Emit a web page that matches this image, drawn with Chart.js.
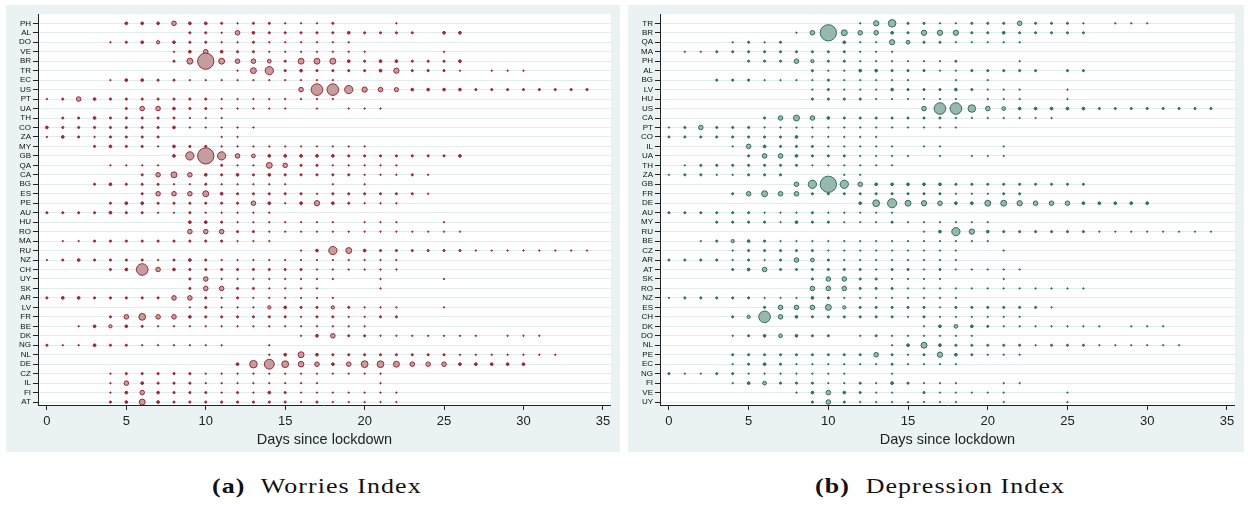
<!DOCTYPE html>
<html>
<head>
<meta charset="utf-8">
<script src="https://cdn.jsdelivr.net/npm/chart.js@4"></script>
<style>
  body { margin: 0; width: 1248px; height: 506px; background: #fff; position: relative; overflow: hidden; }
  .panel { position: absolute; top: 5px; height: 447px; background: #eaf2f3; }
  #leftPanel { left: 6px; width: 614px; }
  #rightPanel { left: 628px; width: 616px; }
  .caption { position: absolute; top: 474px; width: 500px; text-align: center; line-height: 23px;
    font-family: "Liberation Serif", serif; font-size: 22px; color: #111; }
  .caption span { display: inline-block; transform: scaleX(1.18); letter-spacing: 0.9px; }
  .caption b { margin-right: 7px; }
</style>
</head>
<body>
<div class="panel" id="leftPanel"><canvas id="worriesChart" width="614" height="447"></canvas></div>
<div class="panel" id="rightPanel"><canvas id="depressionChart" width="616" height="447"></canvas></div>
<div class="caption" style="left:67px"><span><b>(a)</b> Worries Index</span></div>
<div class="caption" style="left:690px"><span><b>(b)</b> Depression Index</span></div>

<script>
"use strict"

// x axis: days since lockdown
const dayTicks = [0, 5, 10, 15, 20, 25, 30, 35];

// (a) Worries Index - countries top to bottom
const worriesCountries = ['PH','AL','DO','VE','BR','TR','EC','US','PT','UA','TH','CO','ZA','MY','GB','QA','CA','BG','ES','PE','AU',
    'HU','RO','MA','RU','NZ','CH','UY','SK','AR','LV','FR','BE','DK','NG','NL','DE','CZ','IL','FI','AT'];

const worriesValues = [
    [0,0,0,0,0,3,3,3,7,3,3,2,1,2,2,1,1,1,2,0,0,0,1],                 // PH
    [0,0,0,0,0,0,0,0,0,2,2,1,7,3,2,2,2,2,2,3,2,2,2,2,0,3,3],           // AL
    [0,0,0,0,1,2,3,4,3,2,2,1,1,2,1,1,1,1,1,1],                       // DO
    [0,0,0,0,0,0,0,0,1,3,7,3,2,2,1,1,1,1,1,1,1,0,0,0,0,1],             // VE
    [0,0,0,0,0,0,0,0,2,11,72,11,7,7,5,2,11,11,11,3,2,3,3,2,2,2,3],     // BR
    [0,0,0,0,0,0,0,0,0,0,0,0,1,11,20,2,3,2,2,2,2,3,9,2,2,2,1,0,1,1,1], // TR
    [0,0,0,0,1,3,3,2,2,1,1,1,1,1,1,1,1,1,1],                         // EC
    [0,0,0,0,0,0,0,0,0,0,0,0,0,0,0,0,7,38,38,20,9,7,6,3,3,3,3,2,2,2,2,2,2,2,2], // US
    [1,2,7,3,2,2,2,2,2,2,2,1,1,1,1,1,1,1,1],                         // PT
    [0,0,0,0,0,2,7,7,3,2,2,1,1,1,1,1,0,1,0,1,1,1],                   // UA
    [0,2,2,3,2,2,2,2,2,1,1,1],                                       // TH
    [3,2,2,2,2,2,2,2,3,1,1,1,1,1],                                   // CO
    [1,3,2,1,2,2,2,2,0,0,0,1,1],                                     // ZA
    [0,0,0,2,3,2,2,1,3,2,2,1,1,1,1,1,1,1,1,1,1],                     // MY
    [0,0,0,0,0,0,0,0,3,20,72,20,7,5,3,3,3,3,3,2,2,2,2,2,2,2,3],        // GB
    [0,0,0,0,1,1,1,1,0,0,0,2,1,1,11,7,2,2,1,1,1,1,1],                // QA
    [0,0,0,0,0,0,2,7,11,7,3,2,3,2,3,2,2,2,2,2,1,1,1,2,1],              // CA
    [0,0,0,2,3,2,2,2,1,1,2,1,1,1,1,1,0,0,1,0,1],                     // BG
    [0,0,0,0,0,0,2,7,7,7,11,3,2,2,2,2,2,1,2,2,2,2,2,2,1],              // ES
    [0,0,0,0,2,3,3,2,2,2,2,2,2,7,3,1,3,9,3,2,1,1,1],                 // PE
    [2,2,2,2,3,2,2,1,1,2,1,1,1,1,1],                                 // AU
    [0,0,0,0,0,0,0,0,0,3,3,2,1,1,1,1,1,1,1,0,1,1,1,0,0,1],             // HU
    [0,0,0,0,0,0,0,0,0,7,7,7,2,2,1,1,1,1,1,1,1,1,1,1,1,1,1],           // RO
    [0,1,1,2,2,2,2,2,2,2,2,2,1,1,1],                                 // MA
    [0,0,0,0,0,0,0,0,0,0,0,0,0,0,0,0,1,3,20,11,3,2,2,2,2,2,2,1,1,1,1,1,1,1,1], // RU
    [1,2,3,2,2,2,2,1,2,3,2,1,1,1,1,1,1,1,1,1,1,1,1],                 // NZ
    [0,0,0,0,2,3,38,7,3,2,2,2,2,2,2,2,2,1,1,1,1,1,1],                // CH
    [0,0,0,0,0,0,0,0,0,2,7,1,1,1,1,1,1,1,1,0,0,1,0,0,0,1],             // UY
    [0,0,0,0,0,0,0,0,0,2,7,7,2,2,1,1,1,1,0,0,0,1],                   // SK
    [2,3,3,2,2,2,2,2,7,7,2,1,2,1,1,1,1,1,1],                         // AR
    [0,0,0,0,0,0,0,0,0,1,2,1,1,1,4,3,2,2,4,2,1,1,1,0,0,1],             // LV
    [0,0,0,0,2,7,14,7,7,3,2,2,2,2,2,2,1,2,2,1,1,2,2],                // FR
    [0,0,1,3,4,3,2,1,1,1,1,1,1,1,1,1,1,1,1,1,1],                     // BE
    [0,0,0,0,0,0,0,0,0,0,0,0,0,0,0,0,1,3,7,2,2,1,1,1,1,1,1,1,0,1,1,1], // DK
    [2,1,1,3,2,2,1,1,1,1,1,1,0,0,1],                                 // NG
    [0,0,0,0,0,0,0,0,0,0,0,0,0,0,1,3,11,3,2,2,2,2,2,2,2,2,1,1,1,1,1,1,1], // NL
    [0,0,0,0,0,0,0,0,0,0,0,0,3,17,28,14,10,7,3,7,14,14,11,7,7,7,3,3,3,3,3], // DE
    [0,0,0,0,1,2,2,2,2,2,1,1,1,1,1,1,1,1,1,1,1,1],                   // CZ
    [0,0,0,0,1,7,3,2,2,2,1,1,1,1,1,1,1,1,0,0,0,1],                   // IL
    [0,0,0,0,1,3,7,3,2,2,2,1,2,1,3,2,1,1,1,1,1,1,1],                 // FI
    [0,0,0,0,2,3,11,3,2,2,2,2,2,2,2,2,1,2,1,1,1,1,1]                 // AT
];

// (b) Depression Index - countries top to bottom
const depressionCountries = ['TR','BR','QA','MA','PH','AL','BG','LV','HU','US','CA','PT','CO','IL','UA','TH','ZA','GB','FR','DE','AU',
    'MY','RU','BE','CZ','AR','AT','SK','RO','NZ','ES','CH','DK','DO','NL','PE','EC','NG','FI','VE','UY'];

const depressionValues = [
    [0,0,0,0,0,0,0,0,0,0,0,0,1,9,17,2,2,1,1,2,2,2,7,2,2,2,1,0,1,1,1],  // TR
    [0,0,0,0,0,0,0,0,1,7,72,11,7,7,3,2,9,9,9,2,2,3,2,2,2,2,2],         // BR
    [0,0,0,0,1,2,1,2,0,0,0,3,1,1,9,5,2,2,1,1,1,1,1],                 // QA
    [0,1,1,2,2,2,2,2,2,2,2,2,1,1,1],                                 // MA
    [0,0,0,0,0,2,2,2,7,4,2,2,1,1,1,1,1,1,2,0,0,0,1],                 // PH
    [0,0,0,0,0,0,0,0,0,2,1,1,3,3,2,2,2,1,1,2,2,2,2,2,0,2,2],           // AL
    [0,0,0,2,2,2,1,1,1,1,2,1,1,1,1,1,0,0,1,0,1],                     // BG
    [0,0,0,0,0,0,0,0,0,1,2,1,1,1,3,2,2,2,3,2,1,1,1,0,0,1],             // LV
    [0,0,0,0,0,0,0,0,0,2,2,2,2,1,1,1,1,1,1,0,1,1,1,0,0,1],             // HU
    [0,0,0,0,0,0,0,0,0,0,0,0,0,0,0,0,7,38,38,17,7,5,3,3,3,3,3,2,2,2,2,2,2,2,2], // US
    [0,0,0,0,0,0,2,7,11,7,3,2,2,2,2,2,2,2,1,1,1,1,1,1,1],              // CA
    [1,2,7,2,2,2,1,1,1,1,1,1,1,1,1,1,1,1,1],                         // PT
    [2,2,2,2,2,2,2,2,3,1,1,1,1,1],                                   // CO
    [0,0,0,0,1,7,3,2,2,2,1,1,1,1,1,0,1,1,0,0,0,1],                   // IL
    [0,0,0,0,0,2,7,7,3,2,2,2,1,1,1,1,0,1,0,1,1,1],                   // UA
    [0,1,2,2,2,2,2,2,2,1,1,1,1,1,1],                                 // TH
    [1,2,2,1,1,2,2,2,0,0,0,1,1],                                     // ZA
    [0,0,0,0,0,0,0,0,7,20,72,20,7,3,3,3,3,3,2,2,2,2,2,2,2,2,2],        // GB
    [0,0,0,0,2,7,11,7,7,2,2,2,2,2,2,2,2,2,1,1,1,2,2],                // FR
    [0,0,0,0,0,0,0,0,0,0,0,0,3,14,24,11,9,7,3,3,11,11,9,7,7,7,3,3,3,3,3], // DE
    [2,2,2,2,2,2,1,1,1,2,1,1,1,1,1],                                 // AU
    [0,0,0,2,2,2,2,1,3,2,2,1,1,1,2,1,1,1,1,1,1],                     // MY
    [0,0,0,0,0,0,0,0,0,0,0,0,0,0,0,0,1,3,20,9,3,2,2,2,2,2,2,1,1,1,1,1,1,1,1], // RU
    [0,0,1,2,4,3,2,1,1,1,1,1,1,1,1,1,1,1,1,1,1],                     // BE
    [0,0,0,0,1,2,2,2,2,2,1,1,1,1,1,1,1,1,1,0,0,1],                   // CZ
    [2,2,2,2,1,2,1,2,7,5,2,1,1,1,1,1,1,1,1],                         // AR
    [0,0,0,0,2,3,7,2,2,2,2,2,2,1,2,2,1,2,1,1,1,1,1],                 // AT
    [0,0,0,0,0,0,0,0,0,2,7,7,2,2,1,1,1,1,0,0,0,1],                   // SK
    [0,0,0,0,0,0,0,0,0,7,7,7,2,2,2,1,1,1,1,1,1,1,1,1,1,1,1],           // RO
    [1,2,2,2,2,2,1,1,1,3,2,1,1,1,1,1,1,1,1],                         // NZ
    [0,0,0,0,0,0,2,7,7,7,11,4,2,2,2,2,2,1,2,2,2,2,2,2,1],              // ES
    [0,0,0,0,2,4,38,7,3,2,2,2,2,2,2,1,2,1,1,1,1,1,1],                // CH
    [0,0,0,0,0,0,0,0,0,0,0,0,0,0,0,0,1,3,5,3,2,1,1,1,1,1,1,1,0,1,1,1], // DK
    [0,0,0,0,1,2,3,5,3,2,2,0,1,2,1,1,1,1,1,1],                       // DO
    [0,0,0,0,0,0,0,0,0,0,0,0,0,0,1,3,11,3,2,2,2,2,2,1,2,2,2,1,1,1,1,1,1], // NL
    [0,0,0,0,2,2,2,2,2,2,2,2,2,7,2,1,2,9,3,2,1,1,1],                 // PE
    [0,0,0,0,1,2,3,2,1,1,1,1,1,1,2,1,1,1,1],                         // EC
    [2,1,1,2,2,1,1,1,1,1,1,1,0,0,1],                                 // NG
    [0,0,0,0,1,3,5,2,2,2,1,1,2,1,3,2,1,1,1,0,0,1,1],                 // FI
    [0,0,0,0,0,0,0,0,1,3,7,3,2,1,1,0,2,1,1,1,1,1,0,0,0,1],             // VE
    [0,0,0,0,0,0,0,0,0,2,7,2,1,1,1,1,1,1,1,0,0,1,0,0,0,1]              // UY
];

const fontFamily = '"Liberation Sans", Arial, sans-serif';

// bubble area proportional to the weight
function bubbleRadius(w) {
    return Math.max(Math.sqrt(w) - 0.35, 0.7);
}

function buildPoints(values) {
    let points = [];
    values.forEach(function (row, i) {
        row.forEach(function (w, day) {
            if (w > 0) points.push({ x: day, y: i, r: bubbleRadius(w), w: w });
        });
    });
    return points;
}

// white plot region on the grey panel
const plotBackground = {
    id: 'plotBackground',
    beforeDraw(chart) {
        const a = chart.chartArea;
        const ctx = chart.ctx;
        ctx.save();
        ctx.fillStyle = '#ffffff';
        ctx.fillRect(a.left, a.top, a.right - a.left, a.bottom - a.top);
        ctx.restore();
    }
};

function makeChart(canvasId, countries, values, fill, stroke) {
    return new Chart(document.getElementById(canvasId), {
        type: 'bubble',
        data: {
            datasets: [{
                data: buildPoints(values),
                // tiny markers read as solid dots
                backgroundColor: ctx => (ctx.raw && ctx.raw.w <= 3) ? stroke : fill,
                borderColor: stroke,
                borderWidth: 1,
                hoverRadius: 0,
            }]
        },
        plugins: [plotBackground],
        options: {
            responsive: false,
            animation: false,
            events: [],
            layout: { padding: { top: 3, right: 4, left: 0, bottom: 0 } },
            scales: {
                x: {
                    type: 'linear',
                    min: -0.56,
                    max: 35.5,
                    afterBuildTicks: s => { s.ticks = dayTicks.map(v => ({ value: v })); },
                    afterFit: s => { s.height = 47; },
                    ticks: { font: { family: fontFamily, size: 13 }, color: '#222', padding: 4, maxRotation: 0 },
                    grid: { drawOnChartArea: false, tickLength: 5, tickColor: '#222' },
                    border: { color: '#222', width: 1 },
                    title: {
                        display: true,
                        text: 'Days since lockdown',
                        font: { family: fontFamily, size: 14.5 },
                        color: '#222',
                        padding: { top: 0, bottom: 3 }
                    }
                },
                y: {
                    type: 'linear',
                    reverse: true,
                    min: -0.97,
                    max: countries.length - 1 + 0.31,
                    afterBuildTicks: s => { s.ticks = countries.map((c, i) => ({ value: i })); },
                    afterFit: s => { s.width = 32; },
                    ticks: {
                        autoSkip: false,
                        padding: 2,
                        font: { family: fontFamily, size: 8 },
                        color: '#111',
                        callback: v => countries[v]
                    },
                    grid: { color: '#e2ecee', lineWidth: 1, tickLength: 5, tickColor: '#222' },
                    border: { color: '#222', width: 1 }
                }
            },
            plugins: {
                legend: { display: false },
                tooltip: { enabled: false }
            }
        }
    });
}

let worriesChart = makeChart('worriesChart', worriesCountries, worriesValues, '#c49e9e', '#9c2834');
let depressionChart = makeChart('depressionChart', depressionCountries, depressionValues, '#97b8af', '#2f6e62');
</script>
</body>
</html>
